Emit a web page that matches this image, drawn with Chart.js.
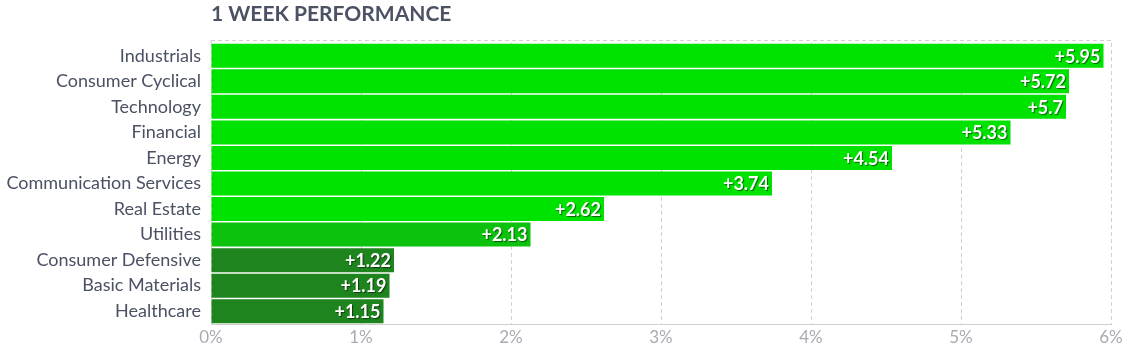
<!DOCTYPE html>
<html>
<head>
<meta charset="utf-8">
<script src="https://cdn.jsdelivr.net/npm/chart.js@4"></script>
<style>
  html, body { margin: 0; padding: 0; background: #fff; }
  #wrap { width: 1132px; height: 353px; position: relative; }
</style>
</head>
<body>
<div id="wrap"><canvas id="chart"></canvas></div>
<script>
// sectors and their 1 week change (%)
const sectors = ["Industrials", "Consumer Cyclical", "Technology", "Financial", "Energy",
  "Communication Services", "Real Estate", "Utilities", "Consumer Defensive",
  "Basic Materials", "Healthcare"];
const weekChange = [5.95, 5.72, 5.7, 5.33, 4.54, 3.74, 2.62, 2.13, 1.22, 1.19, 1.15];
const tickValues = [0, 1, 2, 3, 4, 5, 6];
const chartTitle = "1 WEEK PERFORMANCE";

// bar colour by size of move
function barColor(v) {
  if (v >= 2.5) return "#00e200";
  if (v >= 2) return "#0cc20c";
  return "#1e841e";
}

// value labels drawn inside the end of each bar
const valueLabels = {
  id: "valueLabels",
  afterDatasetsDraw(chart) {
    const ctx = chart.ctx;
    const meta = chart.getDatasetMeta(0);
    ctx.save();
    ctx.font = "bold 18px Lato";
    ctx.textAlign = "right";
    ctx.textBaseline = "middle";
    ctx.shadowColor = "rgba(0,0,0,0.55)";
    ctx.shadowOffsetX = 1;
    ctx.shadowOffsetY = 1;
    ctx.shadowBlur = 1;
    ctx.fillStyle = "#ffffff";
    meta.data.forEach((bar, i) => {
      ctx.fillText("+" + weekChange[i], bar.x - 3, bar.y + 1);
    });
    ctx.restore();
  }
};

// title and dashed top line of the plot
const frame = {
  id: "frame",
  beforeDatasetsDraw(chart) {
    const { ctx, chartArea } = chart;
    ctx.save();
    ctx.strokeStyle = "#d0d0d4";
    ctx.lineWidth = 1;
    ctx.setLineDash([4, 3]);
    ctx.beginPath();
    ctx.moveTo(chartArea.left, chartArea.top - 2.5);
    ctx.lineTo(chartArea.right, chartArea.top - 2.5);
    ctx.moveTo(chartArea.left, chartArea.top - 3);
    ctx.lineTo(chartArea.left, chartArea.top);
    ctx.stroke();
    ctx.restore();
  },
  afterDraw(chart) {
    const { ctx, chartArea } = chart;
    ctx.save();
    ctx.font = "bold 21px Lato";
    ctx.fillStyle = "#4c5264";
    ctx.textAlign = "left";
    ctx.textBaseline = "alphabetic";
    ctx.fillText(chartTitle, chartArea.left, 21);
    ctx.restore();
  }
};

new Chart(document.getElementById("chart"), {
  type: "bar",
  data: {
    labels: sectors,
    datasets: [{
      data: weekChange,
      backgroundColor: weekChange.map(barColor),
      borderWidth: 0,
      barPercentage: 1,
      categoryPercentage: 0.94
    }]
  },
  options: {
    indexAxis: "y",
    responsive: true,
    maintainAspectRatio: false,
    animation: false,
    layout: { padding: { top: 43, right: 21, left: 0, bottom: 0 } },
    plugins: {
      legend: { display: false },
      tooltip: { enabled: false }
    },
    scales: {
      x: {
        min: 0,
        max: 6,
        afterBuildTicks: (scale) => {
          scale.ticks = tickValues.map(v => ({ value: v }));
        },
        afterFit: (scale) => { scale.height = 29; },
        ticks: {
          padding: 3,
          color: "#a9abb3",
          font: { family: "Lato", size: 17 },
          callback: (v) => v + "%"
        },
        grid: {
          color: "#d0d0d4",
          drawTicks: false
        },
        border: { color: "#d0d0d4", dash: [4, 3] }
      },
      y: {
        afterFit: (scale) => { scale.width = 211; },
        ticks: {
          padding: 10,
          color: "#4a5163",
          font: { family: "Lato", size: 18 }
        },
        grid: { display: false, drawTicks: false },
        border: { display: false }
      }
    }
  },
  plugins: [valueLabels, frame]
});
</script>
</body>
</html>
